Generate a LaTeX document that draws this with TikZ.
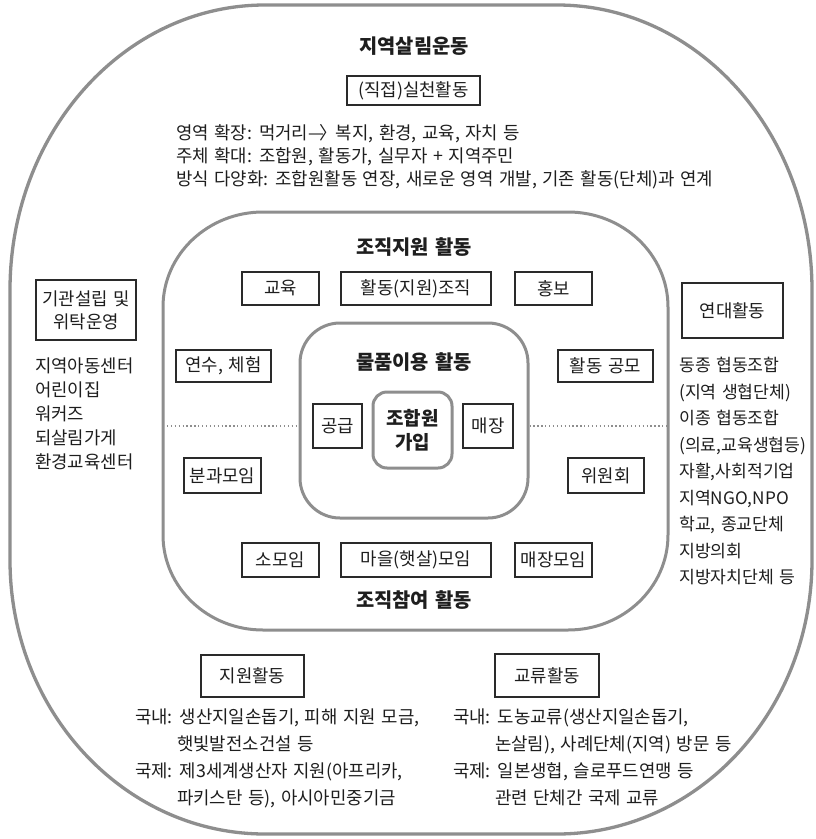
\documentclass[tikz,border=0pt]{standalone}
\usepackage{fontspec}
\setmainfont{Noto Sans CJK KR}[WordSpace=1.4]
\definecolor{linegray}{HTML}{8E8E8E}
\definecolor{boxblack}{HTML}{2A2A2A}
\definecolor{txtcol}{HTML}{1E1E1E}
\newcommand\mysz{\fontsize{17.8pt}{21pt}\selectfont}
\newcommand\mytt{\fontsize{19.8pt}{24pt}\selectfont\bfseries}
\tikzset{
  grayline/.style={draw=linegray, line width=3pt},
  box/.style={draw=boxblack, line width=1.1pt, inner sep=0pt, font=\mysz, text=txtcol, align=center},
  txt/.style={inner sep=0pt, font=\mysz, text=txtcol, text height=14pt, text depth=1pt, anchor=west},
  rtxt/.style={txt, font=\fontsize{17.2pt}{21pt}\selectfont},
  titletext/.style={inner sep=0pt, font=\mytt, text=txtcol},
  dotline/.style={draw=linegray, line width=1.3pt, dash pattern=on 1.3pt off 2.6pt},
}
\begin{document}
\begin{tikzpicture}[x=1pt,y=-1pt]
\useasboundingbox[fill=white] (0,0) rectangle (816,839);
% outer shape
\draw[grayline, line width=3.3pt] (10,290) arc[start angle=180, end angle=90, x radius=255pt, y radius=285pt]
  -- (557,5) arc[start angle=90, end angle=0, x radius=255pt, y radius=285pt]
  -- (812,560) arc[start angle=0, end angle=-90, x radius=255pt, y radius=274pt]
  -- (265,834) arc[start angle=270, end angle=180, x radius=255pt, y radius=274pt]
  -- cycle;
% middle shape
\draw[grayline] (163,307) arc[start angle=180, end angle=90, x radius=100pt, y radius=95pt]
  -- (568,212) arc[start angle=90, end angle=0, x radius=100pt, y radius=95pt]
  -- (668,535) arc[start angle=0, end angle=-90, x radius=100pt, y radius=95pt]
  -- (263,630) arc[start angle=270, end angle=180, x radius=100pt, y radius=95pt]
  -- cycle;
\coordinate (midL) at (163,426);
\coordinate (midR) at (668,426);
% inner shape
\node[grayline, rounded corners=40pt, minimum width=228pt, minimum height=195pt, inner sep=0pt] (inner) at (414,420.5) {};
\node[grayline, rounded corners=14pt, minimum width=79pt, minimum height=76pt, inner sep=0pt, align=center, text=txtcol, font=\fontsize{19pt}{24pt}\selectfont\bfseries] (member) at (412.5,430) {조합원\\가입};
\draw[dotline] (midL) -- (inner.west |- midL);
\draw[dotline] (inner.east |- midR) -- (midR);

% top
\node[titletext] (t1) at (414,46) {지역살림운동};
\node[box, minimum width=133pt, minimum height=29pt] (direct) at (413.5,90.5) {(직접)실천활동};
\node[txt] (l1) at (176,133) {영역 확장: 먹거리—\kern-0.25em〉\kern-0.1em 복지, 환경, 교육, 자치 등};
\node[txt] (l2) at (176,156) {주체 확대: 조합원, 활동가, 실무자 + 지역주민};
\node[txt] (l3) at (176,179) {방식 다양화: 조합원활동 연장, 새로운 영역 개발, 기존 활동(단체)과 연계};

% middle
\node[titletext] (t2) at (414,247) {조직지원 활동};
\node[box, minimum width=77pt, minimum height=33pt] (edu) at (280.5,288.5) {교육};
\node[box, minimum width=150pt, minimum height=33pt] (org) at (416,288.5) {활동(지원)조직};
\node[box, minimum width=77pt, minimum height=33pt] (pr) at (553.5,288.5) {홍보};
\node[box, minimum width=95pt, minimum height=32pt] (train) at (223.5,366) {연수, 체험};
\node[box, minimum width=95pt, minimum height=32pt] (contest) at (605.5,366) {활동 공모};
\node[titletext] (t3) at (414,362) {물품이용 활동};
\node[box, minimum width=49pt, minimum height=44pt] (supply) at (337.5,426) {공급};
\node[box, minimum width=50pt, minimum height=44pt] (store) at (488,426) {매장};
\node[box, minimum width=77pt, minimum height=35pt] (section) at (222.5,475.5) {분과모임};
\node[box, minimum width=76pt, minimum height=35pt] (committee) at (606,475.5) {위원회};
\node[box, minimum width=77pt, minimum height=34pt] (small) at (280.5,560) {소모임};
\node[box, minimum width=150pt, minimum height=34pt] (village) at (416,560) {마을(햇살)모임};
\node[box, minimum width=77pt, minimum height=34pt] (storemeet) at (553.5,560) {매장모임};
\node[titletext] (t4) at (414,600) {조직참여 활동};

% left
\node[box, minimum width=100pt, minimum height=60pt, font=\fontsize{17.8pt}{23pt}\selectfont] (inst) at (86,310) {기관설립 및\\위탁운영};
\node[txt] (a1) at (35,366) {지역아동센터};
\node[txt] (a2) at (35,390) {어린이집};
\node[txt] (a3) at (35,414) {워커즈};
\node[txt] (a4) at (35,438) {되살림가게};
\node[txt] (a5) at (35,462) {환경교육센터};

% right
\node[box, minimum width=101pt, minimum height=55pt] (solid) at (732.5,310.5) {연대활동};
\node[rtxt] (b1) at (679,365) {동종 협동조합};
\node[rtxt] (b2) at (679,391.5) {(지역 생협단체)};
\node[rtxt] (b3) at (679,418) {이종 협동조합};
\node[rtxt] (b4) at (679,444.5) {(의료,교육생협등)};
\node[rtxt] (b5) at (679,471) {자활,사회적기업};
\node[rtxt] (b6) at (679,497.5) {지역NGO,NPO};
\node[rtxt] (b7) at (679,524) {학교, 종교단체};
\node[rtxt] (b8) at (679,550.5) {지방의회};
\node[rtxt] (b9) at (679,577) {지방자치단체 등};

% bottom
\node[box, minimum width=103pt, minimum height=42pt] (support) at (252.5,676) {지원활동};
\node[box, minimum width=104pt, minimum height=43pt] (exchange) at (547,675.5) {교류활동};
\node[txt] (c1) at (135,717) {국내: 생산지일손돕기, 피해 지원 모금,};
\node[txt] (c2) at (177,744) {햇빛발전소건설 등};
\node[txt] (c3) at (135,771) {국제: 제3세계생산자 지원(아프리카,};
\node[txt] (c4) at (177,798) {파키스탄 등), 아시아민중기금};
\node[txt] (d1) at (453,717) {국내: 도농교류(생산지일손돕기,};
\node[txt] (d2) at (495,744) {논살림), 사례단체(지역) 방문 등};
\node[txt] (d3) at (453,771) {국제: 일본생협, 슬로푸드연맹 등};
\node[txt] (d4) at (495,798) {관련 단체간 국제 교류};
\end{tikzpicture}
\end{document}
